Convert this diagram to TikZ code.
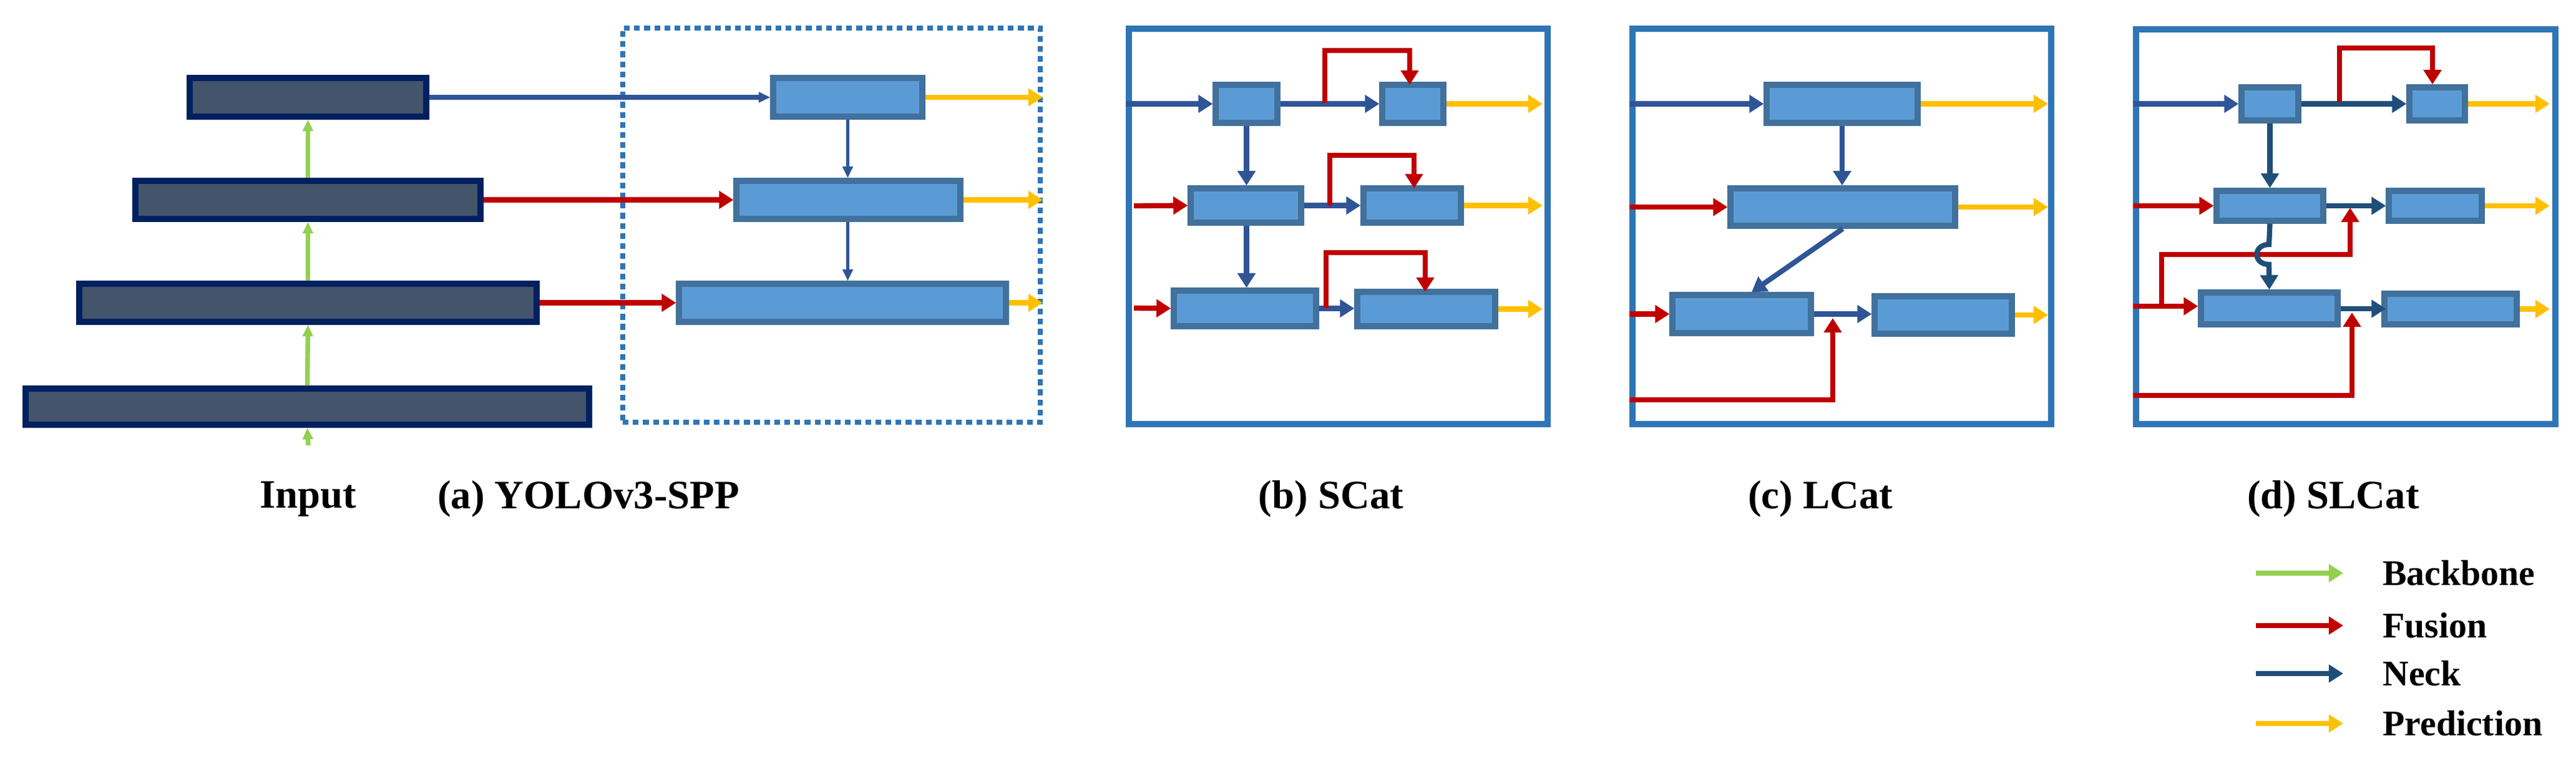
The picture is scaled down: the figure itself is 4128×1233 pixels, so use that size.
\documentclass[tikz,border=0pt]{standalone}
\usepackage{fontspec}
\setmainfont{Liberation Serif}
\usetikzlibrary{arrows.meta, positioning, fit, calc}
\definecolor{bbfill}{HTML}{44546A}
\definecolor{bbdraw}{HTML}{002060}
\definecolor{neckfill}{HTML}{5B9BD5}
\definecolor{neckdraw}{HTML}{41719C}
\definecolor{framblue}{HTML}{2E75B6}
\definecolor{fusred}{HTML}{C00000}
\definecolor{predyellow}{HTML}{FFC000}
\definecolor{bbgreen}{HTML}{92D050}
\definecolor{neckblue}{HTML}{2F5597}
\definecolor{neckdark}{HTML}{1F4E79}

\begin{document}
\begin{tikzpicture}[
		x=0.0076cm, y=-0.0076cm,
		backbone/.style={rectangle, inner sep=0pt, draw=bbdraw, fill=bbfill, line width=2.1pt},
		neck/.style={rectangle, inner sep=0pt, draw=neckdraw, fill=neckfill, line width=2pt},
		frame/.style={rectangle, inner sep=0pt, draw=framblue, line width=2pt},
		tip/.style={-{Triangle[length=5pt, width=6pt]}},
		bbarrow/.style={-{Triangle[length=4pt, width=3.5pt]}, line width=1.6pt, color=bbgreen},
		fusarrow/.style={tip, line width=1.8pt, color=fusred},
		neckarrow/.style={tip, line width=1.8pt, color=neckblue},
		thinneck/.style={-{Triangle[length=4pt, width=3.5pt]}, line width=1.2pt, color=neckblue},
		predarrow/.style={tip, line width=1.8pt, color=predyellow},
		caption/.style={font=\fontsize{14}{16}\selectfont\bfseries},
		legend/.style={font=\fontsize{12.5}{14}\selectfont\bfseries, anchor=west}
	]
	\useasboundingbox (0,0) rectangle (4128,1233);

	% (a) YOLOv3-SPP
	\node (bb1) [backbone, fit={(304,125)(683,187)}] {};
	\node (bb2) [backbone, fit={(217,290)(770,351)}] {};
	\node (bb3) [backbone, fit={(127,455)(860,516)}] {};
	\node (bb4) [backbone, fit={(41,623)(944,681)}] {};
	\node (dots) [rectangle, inner sep=0pt, draw=framblue, line width=1.7pt, dash pattern=on 2pt off 1.5pt, fit={(998,45)(1667,677)}] {};
	\node (n1) [neck, fit={(1239,125)(1478,187)}] {};
	\node (n2) [neck, fit={(1180,290)(1539,351)}] {};
	\node (n3) [neck, fit={(1088,455)(1612,516)}] {};
	\node (input) [caption] at (494,800) {Input};
	\node [caption] at (943,800) {(a) YOLOv3-SPP};

	\draw [bbarrow] ([yshift=9pt]input.north) -- (bb4.south);
	\draw [bbarrow] (bb4.north) -- (bb3.south);
	\draw [bbarrow] (bb3.north) -- (bb2.south);
	\draw [bbarrow] (bb2.north) -- (bb1.south);
	\draw [thinneck, line width=1.6pt] (bb1.east) -- (n1.west);
	\draw [fusarrow] (bb2.east) -- (n2.west);
	\draw [fusarrow] (bb3.east) -- (n3.west);
	\draw [thinneck] (n1.south) -- (n1.south |- n2.north);
	\draw [thinneck] (n1.south |- n2.south) -- (n1.south |- n3.north);
	\foreach \n in {n1,n2,n3}
		\draw [predarrow] (\n.east) -- (\n.east -| dots.east);

	% (b) SCat
	\node (fb) [frame, fit={(1809,46)(2480,680)}] {};
	\node (b1) [neck, fit={(1948,136)(2047,197)}] {};
	\node (b2) [neck, fit={(2215,136)(2313,197)}] {};
	\node (b3) [neck, fit={(1908,302)(2085,357)}] {};
	\node (b4) [neck, fit={(2185,302)(2341,357)}] {};
	\node (b5) [neck, fit={(1881,466)(2109,523)}] {};
	\node (b6) [neck, fit={(2175,468)(2396,523)}] {};
	\node [caption] at (2133,800) {(b) SCat};

	\draw [neckarrow] (fb.west |- b1) -- (b1.west);
	\draw [fusarrow] (1817,330) -- (b3.west);
	\draw [fusarrow] (1817,494) -- (b5.west);
	\draw [neckarrow] (b1) -- (b2);
	\draw [neckarrow] (b3.east) -- (b4.west |- b3.east);
	\draw [neckarrow] (b5.east) -- (b6.west |- b5.east);
	\draw [neckarrow] (b1.south) -- (b1.south |- b3.north);
	\draw [neckarrow] (b1.south |- b3.south) -- (b1.south |- b5.north);
	\draw [fusarrow] (2123,165) |- (2259,81) -- (2259,136);
	\draw [fusarrow] (2131,330) |- (2266,249) -- (2266,302);
	\draw [fusarrow] (2125,494) |- (2284,405) -- (2284,468);
	\foreach \n in {b2,b4,b6}
		\draw [predarrow] (\n.east) -- (\n.east -| 2472,0);

	% (c) LCat
	\node (fc) [frame, fit={(2616,46)(3287,680)}] {};
	\node (c1) [neck, fit={(2831,136)(3073,197)}] {};
	\node (c2) [neck, fit={(2773,302)(3133,362)}] {};
	\node (c3) [neck, fit={(2680,473)(2902,534)}] {};
	\node (c4) [neck, fit={(3004,475)(3224,535)}] {};
	\node [caption] at (2917,800) {(c) LCat};

	\draw [neckarrow] (fc.west |- c1) -- (c1.west);
	\draw [fusarrow] (fc.west |- c2) -- (c2.west);
	\draw [fusarrow] (fc.west |- c3) -- (c3.west);
	\draw [neckarrow] (c1.south) -- (c1.south |- c2.north);
	\draw [neckarrow] (c2.south) -- ($(c3.north)+(16,0)$);
	\draw [neckarrow] (c3.east) -- (c4.west |- c3.east);
	\draw [fusarrow] (fc.west |- 0,641) -| (2937,510);
	\foreach \n in {c1,c2,c4}
		\draw [predarrow] (\n.east) -- (\n.east -| 3282,0);

	% (d) SLCat
	\node (fd) [frame, fit={(3423,47)(4095,680)}] {};
	\node (d1) [neck, fit={(3592,140)(3683,193)}] {};
	\node (d2) [neck, fit={(3861,140)(3950,193)}] {};
	\node (d3) [neck, fit={(3552,306)(3723,354)}] {};
	\node (d4) [neck, fit={(3828,306)(3977,354)}] {};
	\node (d5) [neck, fit={(3527,469)(3746,520)}] {};
	\node (d6) [neck, fit={(3821,471)(4033,520)}] {};
	\node [caption] at (3739,800) {(d) SLCat};

	\draw [neckarrow] (fd.west |- d1) -- (d1.west);
	\draw [fusarrow] (fd.west |- d3) -- (d3.west);
	\draw [fusarrow] (fd.west |- 0,491) -- (d5.west |- 0,491);
	\draw [neckarrow, color=neckdark] (d1) -- (d2);
	\draw [neckarrow, color=neckdark] (d3.east) -- (d4.west |- d3.east);
	\draw [neckarrow, color=neckdark] (d5.east |- 0,495) -- (d4.west |- 0,495);
	\draw [neckarrow, color=neckdark] (d1.south) -- (d1.south |- d3.north);
	\draw [fusarrow] (3749,164) |- (3898,77) -- (d2.north -| 3898,0);
	\draw [fusarrow] (3464,491) |- (3766,408) -- (3766,333);
	\draw [fusarrow] (fd.west |- 0,634) -| (3769,501);
	\draw [neckarrow, color=neckdark] (d3.south) -- (3636,392)
		.. controls (3610,392) and (3610,424) .. (3636,424) -- (d5.north);
	\foreach \n in {d2,d4,d6}
		\draw [predarrow] (\n.east) -- (\n.east -| 4086,0);

	% legend
	\foreach \c/\t/\y in {bbgreen/Backbone/919, fusred/Fusion/1003, neckdark/Neck/1080, predyellow/Prediction/1160} {
		\coordinate (l\t) at (3615,\y);
		\node (t\t) [legend] at (3802,\y) {\t};
		\draw [tip, line width=1.8pt, color=\c] (l\t) -- (3755,\y);
	}
\end{tikzpicture}
\end{document}
